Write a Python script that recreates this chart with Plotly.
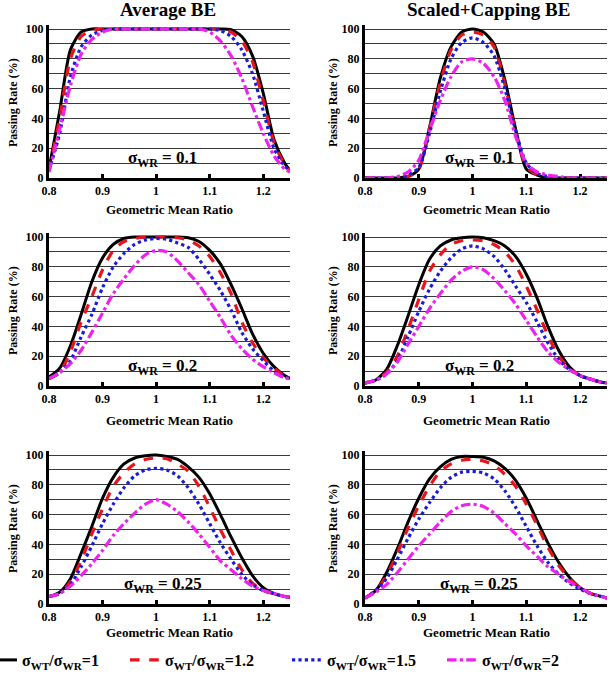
import plotly.graph_objects as go

# Geometric mean ratio grid
gmr = [0.80, 0.82, 0.84, 0.86, 0.88, 0.90, 0.92, 0.94, 0.96, 0.98, 1.00, 1.02,
       1.04, 1.06, 1.08, 1.10, 1.12, 1.14, 1.16, 1.18, 1.20, 1.22, 1.24, 1.25]

# Average BE, sigma_WR = 0.1
avg01_r1 = [6, 45, 86, 98, 100, 100, 100, 100, 100, 100, 100, 100, 100, 100, 100, 100, 100, 99.5, 95, 82, 57, 26, 10, 5]
avg01_r12 = [5, 40, 80, 95, 99, 100, 100, 100, 100, 100, 100, 100, 100, 100, 100, 100, 100, 98, 92, 78, 52, 24, 9, 5]
avg01_r15 = [5, 30, 68, 88, 96, 99, 100, 100, 100, 100, 100, 100, 100, 100, 100, 100, 99, 95, 86, 70, 45, 20, 8, 5]
avg01_r2 = [4, 33, 62, 83, 93, 98, 100, 100, 100, 100, 100, 100, 100, 100, 100, 98, 92, 82, 67, 48, 30, 15, 6, 4]

# Scaled+Capping BE, sigma_WR = 0.1
scl01_r1 = [0, 0, 0, 0, 1, 6, 34, 67, 88, 98, 100, 98, 90, 66, 33, 6, 2, 0, 0, 0, 0, 0, 0, 0]
scl01_r12 = [0, 0, 0, 0, 1, 6, 33, 64, 86, 96, 98, 96, 88, 63, 31, 8, 2, 0, 0, 0, 0, 0, 0, 0]
scl01_r15 = [0, 0, 0, 0, 2, 7, 30, 58, 80, 91, 94, 91, 82, 60, 32, 10, 3, 1, 0, 0, 0, 0, 0, 0]
scl01_r2 = [0, 0, 0, 1, 4, 12, 32, 52, 68, 78, 80, 77, 68, 52, 28, 10, 4, 2, 1, 0, 0, 0, 0, 0]

# Average BE, sigma_WR = 0.2
avg02_r1 = [6, 12, 27, 48, 70, 86, 95, 99, 100, 100, 100, 100, 100, 99.5, 97, 91, 82, 68, 52, 35, 22, 13, 7, 5]
avg02_r12 = [5, 9, 23, 43, 60, 78, 91, 97, 99, 100, 100, 100, 99.5, 98, 94, 87, 76, 62, 43, 29, 19, 12, 6.5, 5]
avg02_r15 = [5, 9, 17, 33, 48, 66, 80, 89, 95, 98, 99, 98.5, 96, 93, 85, 75, 64, 51, 36, 25, 17, 10, 6, 5]
avg02_r2 = [5, 9, 15, 24, 36, 49, 62, 72, 81, 88, 91, 90, 84, 76, 68, 57, 46, 34, 25, 18, 13, 9, 5.5, 5]

# Scaled+Capping BE, sigma_WR = 0.2
scl02_r1 = [2, 4, 11, 27, 47, 68, 85, 94, 98, 99.5, 100, 99.5, 97.5, 94, 87, 75, 59, 40, 24, 13, 7, 4.5, 2.5, 2]
scl02_r12 = [2, 4, 9, 20, 38, 58, 77, 88, 95, 97.5, 98, 97.5, 95, 90, 81, 67, 51, 34, 20, 12, 7, 4.5, 2.5, 2]
scl02_r15 = [2, 4, 8, 17, 33, 50, 65, 77, 86, 92, 94, 92, 87, 78, 67, 56, 43, 29, 18, 11, 7, 4.5, 2.5, 2]
scl02_r2 = [2, 4, 8, 16, 28, 40, 52, 62, 71, 77, 80, 78, 72, 64, 55, 44, 33, 23, 16, 11, 7, 4.5, 2.5, 2]

# Average BE, sigma_WR = 0.25
avg025_r1 = [5, 8, 17, 34, 52, 71, 85, 94, 98, 99.5, 100, 99, 97, 92, 85, 74, 60, 45, 31, 19, 11, 7, 5, 4.5]
avg025_r12 = [5, 7, 15, 29, 47, 64, 79, 88, 94, 97, 98, 97.5, 94, 89, 79, 65, 50, 36, 23, 14, 9, 7, 5, 4.5]
avg025_r15 = [5, 7, 13, 25, 39, 54, 67, 78, 86, 90, 91, 90, 86, 78, 67, 54, 41, 30, 20, 13, 9, 7, 5, 4.5]
avg025_r2 = [5, 7, 12, 19, 27, 36, 46, 54, 61, 67, 70, 67, 62, 55, 47, 38, 29, 23, 17, 12, 9, 7, 5, 4.5]

# Scaled+Capping BE, sigma_WR = 0.25
scl025_r1 = [4, 9, 21, 37, 55, 71, 84, 92, 97, 99, 99, 98.5, 96, 91, 83, 71, 56, 41, 28, 18, 11, 7, 5, 4]
scl025_r12 = [4, 9, 19, 34, 51, 66, 79, 89, 94, 96.5, 97, 96, 93, 87, 79, 67, 53, 38, 26, 17, 11, 7, 5, 4]
scl025_r15 = [4, 9, 17, 30, 44, 57, 68, 78, 85, 88.5, 89, 88, 84, 76, 65, 52, 39, 28, 20, 14, 10, 7, 5, 4]
scl025_r2 = [4, 8, 13, 21, 30, 39, 47, 55, 62, 66, 67, 65.5, 61, 54, 47, 39, 32, 25, 20, 15, 11, 7, 5, 4]

column_titles = ["Average BE", "Scaled+Capping BE"]
sigma_labels = ["0.1", "0.1", "0.2", "0.2", "0.25", "0.25"]
ratio_labels = ["1", "1.2", "1.5", "2"]
x_ticks = [0.8, 0.9, 1.0, 1.1, 1.2]
x_ticktext = ["0.8", "0.9", "1", "1.1", "1.2"]
y_ticks = [0, 20, 40, 60, 80, 100]

panels = [
    [avg01_r1, avg01_r12, avg01_r15, avg01_r2],
    [scl01_r1, scl01_r12, scl01_r15, scl01_r2],
    [avg02_r1, avg02_r12, avg02_r15, avg02_r2],
    [scl02_r1, scl02_r12, scl02_r15, scl02_r2],
    [avg025_r1, avg025_r12, avg025_r15, avg025_r2],
    [scl025_r1, scl025_r12, scl025_r15, scl025_r2],
]

styles = [
    dict(color="#000000", dash="solid", width=3),
    dict(color="#e8141b", dash="dash", width=3.2),
    dict(color="#1a1adb", dash="dot", width=3.2),
    dict(color="#ee22ee", dash="dashdot", width=3.2),
]

W, H = 610, 681
FONT = "Liberation Serif"

col_x = [(49, 290), (365, 607)]
row_y0 = [178, 386, 604]
px_per_unit_y = 1.49
y_top_val = 103

# legend entry line starts (px) in the reference
legend_starts = [0, 143, 305, 460]
legend_names = ["legend", "legend2", "legend3", "legend4"]

fig = go.Figure()

layout = dict(
    width=W, height=H,
    margin=dict(l=0, r=0, t=0, b=0, autoexpand=False),
    paper_bgcolor="white", plot_bgcolor="white",
    font=dict(family=FONT, size=12, color="black"),
    showlegend=True,
)
for k, ln in enumerate(legend_names):
    layout[ln] = dict(
        orientation="h", x=(legend_starts[k] - 18) / W, xanchor="left",
        y=(H - 660) / H, yanchor="middle",
        font=dict(family=FONT, size=16, color="black", weight="bold"),
        bgcolor="rgba(0,0,0,0)", itemwidth=30,
    )

annotations = []
for p in range(6):
    r, c = divmod(p, 2)
    ax = "" if p == 0 else str(p + 1)
    x0, x1 = col_x[c]
    y0 = row_y0[r]
    ytop = y0 - px_per_unit_y * y_top_val
    layout["xaxis" + ax] = dict(
        domain=[x0 / W, x1 / W], anchor="y" + ax,
        range=[0.8, 1.25], tickvals=x_ticks, ticktext=x_ticktext,
        showline=True, linecolor="black", linewidth=3,
        ticks="inside", ticklen=4, tickwidth=3, tickcolor="black",
        showgrid=False, zeroline=False, layer="below traces",
        tickfont=dict(family=FONT, size=12, weight="bold"),
    )
    layout["yaxis" + ax] = dict(
        domain=[(H - y0) / H, (H - ytop) / H], anchor="x" + ax,
        range=[0, y_top_val], tickvals=y_ticks,
        showline=True, linecolor="black", linewidth=3,
        ticks="", showgrid=True, gridcolor="#3a3a3a", gridwidth=1,
        minor=dict(tickvals=[10, 30, 50, 70, 90], showgrid=True, gridcolor="#3a3a3a", gridwidth=1),
        zeroline=False, layer="below traces",
        tickfont=dict(family=FONT, size=12, weight="bold"),
    )
    for k, vals in enumerate(panels[p]):
        st = styles[k]
        fig.add_trace(go.Scatter(
            x=gmr, y=vals, mode="lines",
            line=dict(color=st["color"], dash=st["dash"], width=st["width"], shape="spline", smoothing=0.7),
            name="σ<sub>WT</sub>/σ<sub>WR</sub>=" + ratio_labels[k],
            showlegend=(p == 0), legend=legend_names[k],
            xaxis="x" + ax, yaxis="y" + ax, hoverinfo="skip",
        ))
    annotations.append(dict(
        x=1.012, y=13, xref="x" + ax, yref="y" + ax,
        text="σ<sub>WR</sub> = " + sigma_labels[p], showarrow=False,
        font=dict(family=FONT, size=17, color="black", weight="bold"),
        xanchor="center", yanchor="middle",
    ))
    xt_y = [210, 420, 632][r]
    annotations.append(dict(
        x=(x0 + x1) / 2 / W, y=(H - xt_y) / H, xref="paper", yref="paper",
        text="Geometric Mean Ratio", showarrow=False,
        font=dict(family=FONT, size=13, color="black", weight="bold"),
        xanchor="center", yanchor="middle",
    ))
    yt_x = [13, 333][c]
    annotations.append(dict(
        x=yt_x / W, y=(H - (y0 - 75)) / H, xref="paper", yref="paper",
        text="Passing Rate (%)", showarrow=False, textangle=-90,
        font=dict(family=FONT, size=12, color="black", weight="bold"),
        xanchor="center", yanchor="middle",
    ))

for c, title in enumerate(column_titles):
    annotations.append(dict(
        x=[168, 488][c] / W, y=(H - 9.5) / H, xref="paper", yref="paper",
        text=title, showarrow=False,
        font=dict(family=FONT, size=19, color="black", weight="bold"),
        xanchor="center", yanchor="middle",
    ))

layout["annotations"] = annotations
fig.update_layout(**layout)
fig.write_html(
    "out.html",
    config={"displayModeBar": False},
    post_script="document.body.style.margin='0';document.body.style.overflow='hidden';",
)
